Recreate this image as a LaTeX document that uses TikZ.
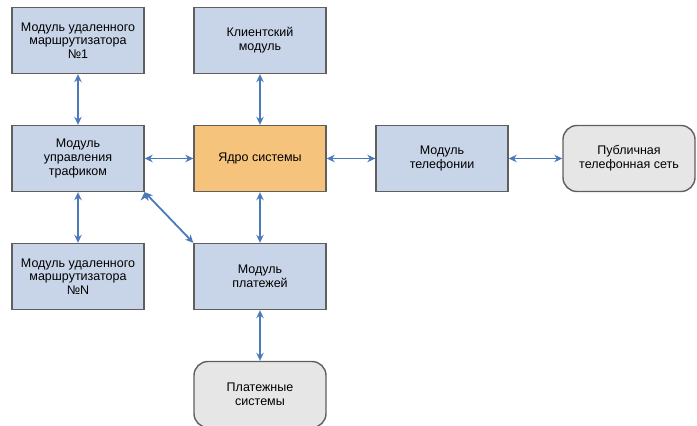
\documentclass[tikz,border=0pt]{standalone}
\usepackage{fontspec}
\setmainfont{Liberation Sans}
\usetikzlibrary{arrows.meta,positioning}
\definecolor{modblue}{RGB}{200,212,232}
\definecolor{corebg}{RGB}{246,195,125}
\definecolor{extgray}{RGB}{230,230,230}
\definecolor{linkblue}{RGB}{74,122,184}
\definecolor{edgegray}{RGB}{95,95,95}
\begin{document}
\begin{tikzpicture}[x=1pt,y=1pt,node distance=118pt and 182pt,on grid,
  module/.style={draw=edgegray,line width=1.4pt,fill=modblue,minimum width=132pt,minimum height=66pt,
    align=center,font=\fontsize{12.5}{13.8}\selectfont},
  kernel/.style={module,fill=corebg},
  outer/.style={module,fill=extgray,rounded corners=14pt},
  link/.style={<->,>={Stealth[length=8pt,width=7.5pt]},draw=linkblue,line width=1.8pt}]
  \useasboundingbox (0,0) rectangle (697,-426);
  \node[kernel]			(core)	at (260,-158.5)		{Ядро системы};
  \node[module]    		(client)	[above=of core] 	{Клиентский\\модуль};
  \node[module]    		(traffic)	[left=of core] 	{Модуль\\управления\\трафиком};
  \node[module]    		(r1)	[above=of traffic] 	{Модуль удаленного\\маршрутизатора\\№1};
  \node[module]    		(rn)	[below=of traffic] 	{Модуль удаленного\\маршрутизатора\\№N};
  \node[module]    		(tel)	[right=of core] 	{Модуль\\телефонии};
  \node[outer]    		(pstn)	[right=187pt of tel] 	{Публичная\\телефонная сеть};
  \node[module]    		(pay)	[below=of core] 	{Модуль\\платежей};
  \node[outer]    		(paysys)	[below=of pay] 	{Платежные\\системы};

 \path[link]
     (r1)	edge 	(traffic)
     (traffic)	edge	(rn)
           	edge	(core)
     (traffic.south east)	edge	(pay.north west)
     (client)	edge	(core)
     (core)	edge	(tel)
           	edge	(pay)
     (tel)	edge	(pstn)
     (pay)	edge	(paysys)
  ;
\end{tikzpicture}
\end{document}
